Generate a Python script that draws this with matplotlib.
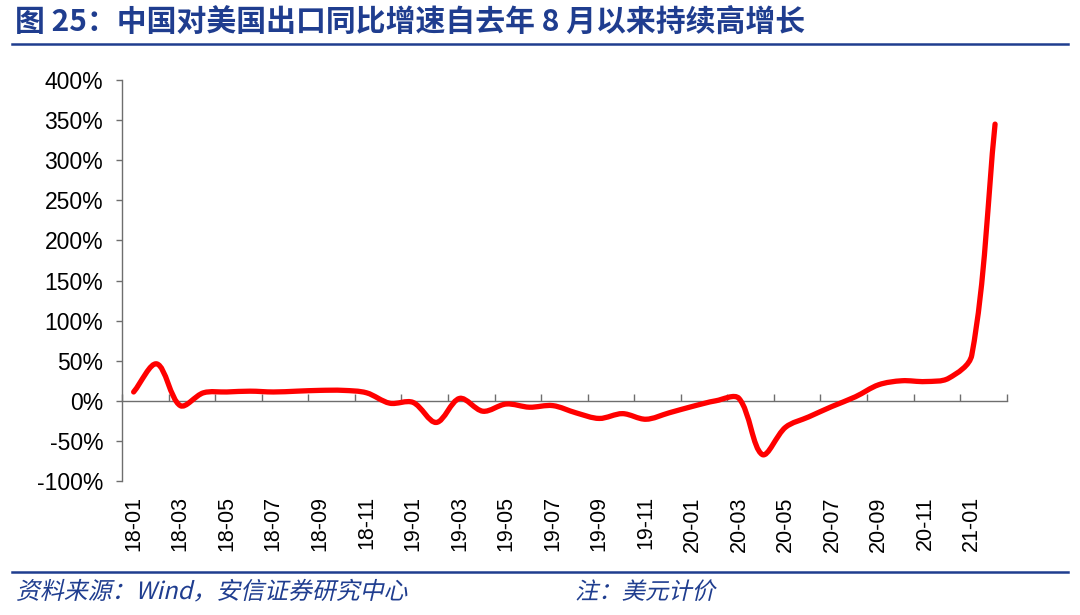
import numpy as np
import matplotlib
matplotlib.use("Agg")
import matplotlib.pyplot as plt
from matplotlib.path import Path
from matplotlib.patches import PathPatch
from matplotlib.lines import Line2D
from matplotlib.textpath import TextPath
from matplotlib.font_manager import FontProperties
from matplotlib.transforms import Affine2D

plt.rcParams['font.family'] = ['Liberation Sans', 'Noto Sans CJK SC', 'DejaVu Sans']

# data: China exports to US, yoy growth (%), monthly 2018-01 .. 2021-02
years = [18, 19, 20, 21]
months = [f"{y}-{m:02d}" for y in years for m in range(1, 13)][:38]
yoy = [11, 46, -6, 10, 11, 12, 11, 12, 13, 13, 10, -3, -2, -27, 3, -13, -4, -8,
       -6, -15, -22, -16, -23, -15, -7, 0, 3, -67, -33, -20, -7, 5, 20, 25, 24, 28,
       57, 345]

title = "图 25：中国对美国出口同比增速自去年 8 月以来持续高增长"
source = "资料来源：Wind，安信证券研究中心"
note = "注：美元计价"

BLUE = '#1f3d8f'
AXC = '#6e6e6e'
W, H = 1080, 615

fig = plt.figure(figsize=(W / 100, H / 100), dpi=100)
ax = fig.add_axes([122 / W, 1 - 481 / H, (1006.7 - 122) / W, 401 / H])

ax.set_xlim(-0.5, len(yoy) - 0.5)
ax.set_ylim(-100, 400)

# smoothed line (Excel-like bezier), arms scaled by neighbouring segment lengths
pts = ax.transData.transform(np.column_stack([np.arange(len(yoy)), yoy]))
n = len(pts)
verts = [tuple(pts[0])]
codes = [Path.MOVETO]
for i in range(n - 1):
    p0, p1 = pts[max(i - 1, 0)], pts[i]
    p2, p3 = pts[i + 1], pts[min(i + 2, n - 1)]
    d01 = np.hypot(*(p1 - p0)); d12 = np.hypot(*(p2 - p1)); d23 = np.hypot(*(p3 - p2))
    c1 = p1 + (p2 - p0) * d12 / max(d01 + d12, 1e-9) / 3.0
    c2 = p2 - (p3 - p1) * d12 / max(d12 + d23, 1e-9) / 3.0
    verts += [tuple(c1), tuple(c2), tuple(p2)]
    codes += [Path.CURVE4] * 3
data_verts = ax.transData.inverted().transform(np.array(verts))
ax.add_patch(PathPatch(Path(data_verts, codes), facecolor='none', edgecolor='#ff0000',
                       lw=3.8, capstyle='round', joinstyle='round', zorder=3))

ax.set_yticks(np.arange(-100, 401, 50))
ax.set_yticklabels([f"{v}%" for v in range(-100, 401, 50)])

for s in ['top', 'right', 'bottom']:
    ax.spines[s].set_visible(False)
ax.spines['left'].set_color(AXC)
ax.spines['left'].set_linewidth(1.0)
ax.tick_params(axis='y', direction='out', length=4.5, width=1.0, color=AXC,
               labelsize=16.5, pad=9, labelcolor='black')

# month labels at category centres, every 2nd month
ax.set_xticks(np.arange(len(yoy))[::2])
ax.set_xticklabels(months[::2], rotation=90, va='top', ha='center')
ax.tick_params(axis='x', length=0, labelsize=15.5, pad=11)

# zero axis with category boundary ticks
sec = ax.secondary_xaxis(0, transform=ax.transData)
sec.set_xticks(np.arange(-0.5, len(yoy), 2))
sec.set_xticklabels([])
sec.spines['bottom'].set_color(AXC)
sec.spines['bottom'].set_linewidth(1.0)
sec.tick_params(axis='x', direction='in', length=5, width=1.0, color=AXC)

# header
fig.text(15 / W, 1 - 22 / H, title, fontsize=21.5, fontweight='bold', color=BLUE,
         family=['Noto Sans CJK SC'], va='center', ha='left')
fig.add_artist(Line2D([12 / W, 1068 / W], [1 - 44 / H] * 2, color=BLUE, lw=1.8))
fig.add_artist(Line2D([12 / W, 1068 / W], [1 - 572 / H] * 2, color=BLUE, lw=1.8))


# footer in slanted (synthetic italic) text
def slanted(txt, x_px, y_px, size):
    tp = TextPath((0, 0), txt, size=size, prop=FontProperties(family='Noto Sans CJK SC'))
    tr = (Affine2D().skew_deg(13, 0).scale(1 / 72.0)
          .translate(x_px / 100.0, (H - y_px) / 100.0) + fig.dpi_scale_trans)
    fig.add_artist(PathPatch(tp, transform=tr, facecolor=BLUE, edgecolor='none'))


slanted(source, 16, 599, 17.2)
slanted(note, 575, 599, 16.8)

fig.savefig('out.png', dpi=100)
